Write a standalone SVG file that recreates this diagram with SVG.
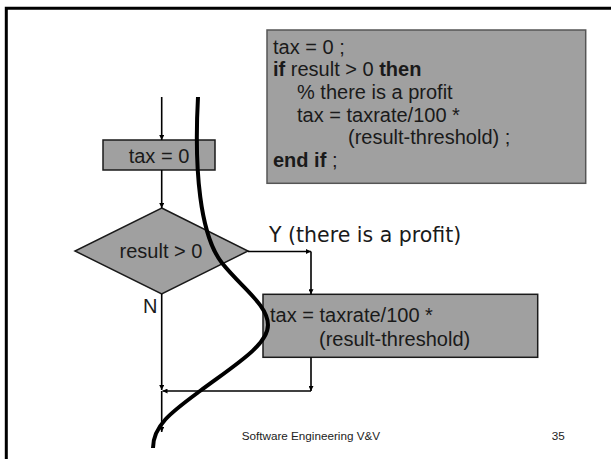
<svg xmlns="http://www.w3.org/2000/svg" width="611" height="459" viewBox="0 0 611 459">
<defs>
<style>
.t{font-family:"Liberation Sans",Arial,sans-serif;font-size:20px;fill:#1a1a1a}
.b{font-weight:bold}
.node{fill:#a0a0a0;stroke:#1a1a1a;stroke-width:1.5}
.code{fill:#a0a0a0;stroke:#555;stroke-width:1.5}
.c{stroke:#000;stroke-width:1.6;fill:none;marker-end:url(#ah)}
.foot{font-family:"Liberation Sans",Arial,sans-serif;font-size:11.7px;fill:#222}
</style>
<marker id="ah" viewBox="0 0 10 10" refX="10" refY="5" markerWidth="5" markerHeight="5" orient="auto" markerUnits="userSpaceOnUse">
<path d="M0,0 L10,5 L0,10 z" fill="#000"/>
</marker>
</defs>
<rect width="611" height="459" fill="#fff"/>
<path d="M6.3,459 V8.3 H611" fill="none" stroke="#000" stroke-width="3"/>

<g id="code">
<rect class="code" x="267" y="30" width="318.7" height="153.3"/>
<text class="t" x="273" y="53.5">tax = 0 ;</text>
<text class="t" x="273" y="76.2"><tspan class="b">if</tspan> result &gt; 0 <tspan class="b">then</tspan></text>
<text class="t" x="297" y="98.9">% there is a profit</text>
<text class="t" x="297" y="121.6">tax = taxrate/100 *</text>
<text class="t" x="348" y="144.3">(result-threshold) ;</text>
<text class="t" x="273" y="167"><tspan class="b">end if</tspan> ;</text>
</g>

<g id="n-tax0">
<rect class="node" x="103" y="140" width="112" height="30"/>
<text class="t" x="159" y="163" text-anchor="middle">tax = 0</text>
</g>

<g id="n-cond">
<polygon class="node" points="161.7,208 248,251 161.7,294 75,251"/>
<text class="t" x="161" y="258" text-anchor="middle">result &gt; 0</text>
</g>

<g id="n-taxcalc">
<rect class="node" x="263" y="294.3" width="274.7" height="63"/>
<text class="t" x="270" y="322">tax = taxrate/100 *</text>
<text class="t" x="319" y="346">(result-threshold)</text>
</g>

<g id="connectors">
<line class="c" x1="161.7" y1="97" x2="161.7" y2="140"/>
<line class="c" x1="161.7" y1="170" x2="161.7" y2="208"/>
<line class="c" x1="248" y1="251.5" x2="311" y2="251.5"/>
<line class="c" x1="311" y1="251.5" x2="311" y2="294.3"/>
<line class="c" x1="161.7" y1="294" x2="161.7" y2="390"/>
<line class="c" x1="311" y1="357.3" x2="311" y2="391"/>
<line class="c" x1="311" y1="391" x2="162.5" y2="391"/>
<line class="c" x1="161.7" y1="391" x2="161.7" y2="432"/>
</g>

<g id="labels">
<text x="269" y="242" style="font-family:'DejaVu Sans',Verdana,sans-serif;font-size:20.5px;fill:#1a1a1a">Y (there is a profit)</text>
<text class="t" x="143" y="313">N</text>
</g>

<path id="path-curve" d="M198,97 C194,170 200,235 222,263 C242,288 268,305 268,325 C268,345 235,365 200,391 C173,411 153,425 153,448" fill="none" stroke="#000" stroke-width="4"/>

<g id="footer">
<text class="foot" x="241.7" y="440">Software Engineering V&amp;V</text>
<text class="foot" x="551.7" y="440">35</text>
</g>
</svg>
